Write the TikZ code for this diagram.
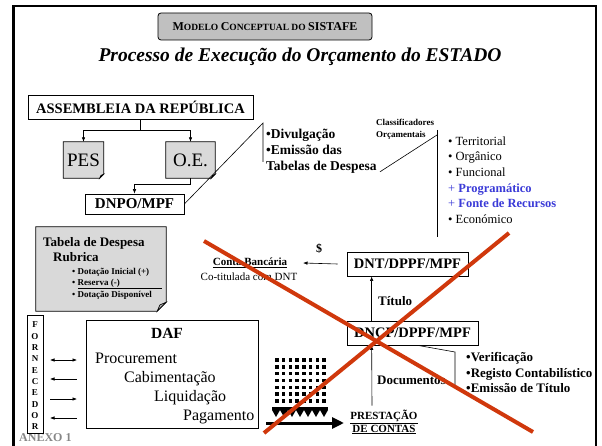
\documentclass[tikz,border=0pt]{standalone}
\usepackage{fontspec}
\setmainfont{Liberation Serif}
\usetikzlibrary{arrows.meta,backgrounds,calc}
\definecolor{xred}{RGB}{208,56,12}
\definecolor{cblue}{RGB}{58,58,215}
\definecolor{tgray}{RGB}{192,192,192}
\definecolor{lgray}{RGB}{217,217,217}
\definecolor{fgray}{RGB}{175,175,175}
\definecolor{agray}{RGB}{135,135,135}
\newcommand{\fs}[1]{\fontsize{#1}{#1}\selectfont}
\newcommand{\dogear}[3]{%
  \filldraw[fill=#3, line width=0.7pt] (#1.north west) -- (#1.north east) -- ([yshift=#2]#1.south east) -- ([xshift=-#2]#1.south east) -- (#1.south west) -- cycle;
  \filldraw[fill=fgray, line width=0.6pt] ([xshift=-#2]#1.south east) -- ([xshift=-0.7*#2,yshift=0.7*#2]#1.south east) -- ([yshift=#2]#1.south east) -- cycle;}
\begin{document}
\begin{tikzpicture}[x=1pt,y=-1pt,
  box/.style={draw,line width=0.7pt,fill=white,inner sep=0pt},
  plain/.style={inner sep=0pt},
  lt/.style={inner sep=0pt,anchor=west},
  conn/.style={line width=0.6pt},
  arr/.style={conn,-{Latex[length=4.5pt,width=3.5pt]}},
  dbl/.style={conn,{Latex[length=4.5pt,width=3.5pt]}-{Latex[length=4.5pt,width=3.5pt]}},
  larr/.style={conn,{Latex[length=4.5pt,width=3.5pt]}-},
  redx/.style={xred,line width=4pt}]
\useasboundingbox (0,0) rectangle (602,446);
% frame
\draw[line width=3pt] (13,447) -- (13,5);
\draw[line width=2pt] (12,6) -- (596,6) -- (596,447);
% title
\node[draw,line width=0.8pt,fill=tgray,rounded corners=3pt,minimum width=214pt,minimum height=27pt,inner sep=0pt] (ttl) at (265,26.5)
  {\bfseries{\fs{12}M}{\fs{9.5}ODELO} {\fs{12}C}{\fs{9.5}ONCEPTUAL DO} {\fs{12}SISTAFE}};
\node[plain,font=\fs{19.5}\bfseries\itshape] (sub) at (300,57) {Processo de Execução do Orçamento do ESTADO};
% assembleia
\node[box,minimum width=225pt,minimum height=24pt,font=\fs{14.5}\bfseries] (asm) at (140.5,107) {ASSEMBLEIA DA REPÚBLICA};
\node[plain,minimum width=40pt,minimum height=36pt,font=\fs{19}] (pes) at (83.5,160) {PES};
\node[plain,minimum width=49pt,minimum height=36pt,font=\fs{19}] (oe) at (190.5,160) {O.E.};
\begin{scope}[on background layer]
\dogear{pes}{4pt}{lgray}
\dogear{oe}{4pt}{lgray}
\end{scope}
\draw[arr] (asm.south) -- ++(0,11) -| (pes.north);
\draw[arr] (asm.south) -- ++(0,11) -| (oe.north);
\node[box,minimum width=99pt,minimum height=20pt,font=\fs{15}\bfseries] (dnpo) at (134.5,204) {DNPO/MPF};
\draw[arr] (oe.south) -- ++(0,6) -| (dnpo.north);
% divulgacao
\node[lt,align=left,font=\fontsize{13.5}{16}\selectfont\bfseries] (div) at (266,151.5) {•Divulgação\\•Emissão das\\Tabelas de Despesa};
\coordinate (vd1) at (263,123);
\coordinate (vd2) at (263,162);
\draw[conn] (dnpo.east) -- (vd1) -- (vd2);
% classificadores
\node[lt,align=left,font=\fontsize{9}{12}\selectfont\bfseries] (cls) at (376,129) {Classificadores\\Orçamentais};
\coordinate (cv1) at (437,130);
\coordinate (cv2) at (437,237);
\coordinate (cd) at (437,135);
\draw[conn] (cv1) -- (cv2);
\draw[conn] ($(div.south east)+(3,-2)$) -- (cd);
\node[lt,align=left,font=\fontsize{12.5}{15.6}\selectfont] (lst) at (448,180)
  {• Territorial\\• Orgânico\\• Funcional\\{\color{cblue}+ \textbf{Programático}}\\{\color{cblue}+ \textbf{Fonte de Recursos}}\\• Económico};
% tabela
\node[plain,minimum width=130pt,minimum height=84pt] (tab) at (101,269) {};
\begin{scope}[on background layer]
\dogear{tab}{9pt}{lgray}
\end{scope}
\node[lt,font=\fs{13}\bfseries] (tb1) at (43,243) {Tabela de Despesa};
\node[lt,font=\fs{13}\bfseries] (tb2) at (53,257) {Rubrica};
\node[lt,font=\fs{9}\bfseries] (tb3) at (72,272) {• Dotação Inicial (+)};
\node[lt,font=\fs{9}\bfseries] (tb4) at (72,283) {• Reserva (-)};
\node[lt,font=\fs{9}\bfseries] (tb5) at (72,295) {• Dotação Disponível};
\draw[conn] (78,288.5) -- (162,288.5);
% conta
\node[plain,font=\fs{11}\bfseries] (cta) at (250,263) {\underline{Conta Bancária}};
\node[plain,font=\fs{11}] (cot) at (249,277) {Co-titulada com DNT};
\node[plain,font=\fs{12}\bfseries] (dol) at (319,249) {\$};
% DNT / DNCP
\node[box,minimum width=121pt,minimum height=24pt,font=\fs{14.5}\bfseries] (dnt) at (407.5,264) {DNT/DPPF/MPF};
\coordinate (ctaR) at (303,263);
\draw[arr] ([xshift=-9pt]dnt.west) -- (ctaR);
\node[box,minimum width=131pt,minimum height=24pt,font=\fs{14.5}\bfseries] (dncp) at (412.5,333) {DNCP/DPPF/MPF};
\draw[arr] ([xshift=25pt]dncp.north west) -- ([xshift=25pt]dnt.south west);
\node[lt,font=\fs{13}\bfseries] (tit) at (378,301) {Título};
\node[plain,font=\fontsize{11}{13}\selectfont\bfseries,align=center] (prc) at (384,422) {\underline{PRESTAÇÃO}\\\underline{DE CONTAS}};
\draw[arr] ([xshift=-12pt,yshift=4pt]prc.north) -- ([xshift=25pt]dncp.south west);
\node[lt,font=\fs{13}\bfseries] (doc) at (377,380) {Documentos};
\coordinate (br1) at (455,352);
\coordinate (br2) at (455,387);
\draw[conn] ([xshift=71pt]dncp.south west) -- (br1) -- (br2);
\node[lt,align=left,font=\fontsize{13}{15.5}\selectfont\bfseries] (ver) at (466,373) {•Verificação\\•Registo Contabilístico\\•Emissão de Título};
% DAF
\node[box,minimum width=172pt,minimum height=108pt] (daf) at (172,374) {};
\node[plain,font=\fs{15.5}\bfseries] (dafl) at (167,333) {DAF};
\node[lt,font=\fs{16}] (p1) at (95,358) {Procurement};
\node[lt,font=\fs{16}] (p2) at (124,379) {Cabimentação};
\node[lt,font=\fs{16}] (p3) at (154,398) {Liquidação};
\node[lt,font=\fs{16}] (p4) at (183,417) {Pagamento};
% fornecedor
\node[lt,font=\fs{12}\bfseries,text=agray] (anx) at (19,438) {ANEXO 1};
\node[draw,line width=0.7pt,fill=white,minimum width=16pt,minimum height=118pt,inner sep=0pt] (forn) at (35,374.5) {};
\foreach \l [count=\i from 0] in {F,O,R,N,E,C,E,D,O,R}
  \node[plain,font=\fs{9}\bfseries] at (35,{325+\i*11.3}) {\l};
\foreach \y/\s in {360/dbl,379/larr,399/arr,418/larr}{
  \coordinate (fa\y) at (50,\y);
  \coordinate (fb\y) at (77,\y);
  \draw[\s] (fa\y) -- (fb\y);}
% pile icon
\foreach \c in {0,...,7}
  \foreach \r in {0,...,6}
    \fill ({277+\c*6.7-1.7},{360+\r*6.8-1.7}) rectangle ++(3.4,3.4);
\fill (272,407) rectangle (328,410);
\foreach \k in {0,...,6}
  \fill ({272+\k*8},410) -- ({280+\k*8},410) -- ({276+\k*8},417) -- cycle;
\coordinate (ba1) at (266,423);
\coordinate (ba2) at (344,423);
\draw[line width=3pt,-{Triangle[length=12pt,width=11pt]}] (ba1) -- (ba2);
% red cross
\draw[redx] (204,241) -- (533,432);
\draw[redx] (509,233) -- (264,433);
\end{tikzpicture}
\end{document}
